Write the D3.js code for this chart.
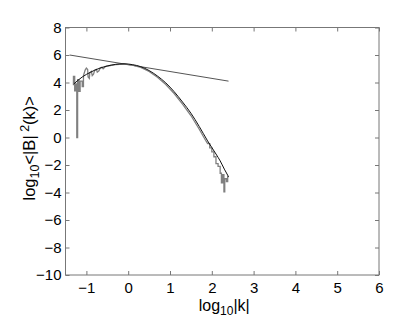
<!DOCTYPE html>
<html>
<head>
<meta charset="utf-8">
<script src="https://cdn.jsdelivr.net/npm/d3@7"></script>
<style>
body { margin: 0; background: #fff; }
text { font-family: "Liberation Sans", Arial, sans-serif; fill: #000; }
</style>
</head>
<body>
<div id="chart"></div>
<script>
// x ticks / y ticks
var xTicks = [-1, 0, 1, 2, 3, 4, 5, 6];
var yTicks = [-10, -8, -6, -4, -2, 0, 2, 4, 6, 8];

// smooth fit curve (black)
var fitX = [-1.3, -1.1, -0.9, -0.7, -0.5, -0.3, -0.1, 0.1, 0.3, 0.5, 0.7, 0.9, 1.1, 1.3, 1.5, 1.7, 1.9, 2.1, 2.2, 2.3, 2.4];
var fitY = [3.9, 4.4, 4.75, 5.02, 5.2, 5.32, 5.36, 5.3, 5.15, 4.87, 4.47, 3.97, 3.33, 2.58, 1.77, 0.8, -0.25, -1.2, -1.7, -2.3, -2.85];

// measured spectrum (grey, stair-like)
var specX = [-1.31, -1.31, -1.28, -1.28, -1.25, -1.25, -1.23, -1.23, -1.21, -1.21, -1.18, -1.18, -1.15, -1.15, -1.1, -1.1, -1.07, -1.07,
  -1.03, -1.0, -0.97, -0.96, -0.93, -0.92, -0.88, -0.86, -0.83, -0.8, -0.76, -0.74, -0.7, -0.67, -0.63, -0.6, -0.55, -0.5,
  -0.3, -0.1, 0.1, 0.3, 0.5, 0.7, 0.9, 1.1, 1.3, 1.5, 1.7, 1.85, 1.9, 1.95, 1.95, 2.0, 2.0, 2.05, 2.05, 2.1, 2.1, 2.15, 2.15,
  2.2, 2.2, 2.23, 2.23, 2.26, 2.26, 2.29, 2.29, 2.31, 2.31, 2.35, 2.35, 2.38, 2.38, 2.41];
var specY = [3.8, 4.45, 4.45, 3.4, 3.4, 3.9, 3.9, 0.0, 0.0, 4.2, 4.2, 3.35, 3.35, 4.1, 4.1, 3.7, 3.7, 4.5,
  4.9, 5.05, 4.95, 4.4, 4.3, 4.7, 4.8, 4.5, 4.6, 4.9, 4.95, 4.75, 4.85, 5.05, 5.1, 5.0, 5.15, 5.2,
  5.3, 5.34, 5.27, 5.1, 4.8, 4.38, 3.85, 3.2, 2.42, 1.6, 0.6, -0.2, -0.45, -0.45, -0.75, -0.75, -1.05, -1.05, -1.4, -1.4, -1.9, -1.9, -2.1,
  -2.1, -2.6, -2.6, -3.3, -3.3, -2.7, -2.7, -3.95, -3.95, -3.0, -3.0, -3.2, -3.2, -2.85, -2.85];

// tangent line
var tanX = [-1.4, 2.4];
var tanY = [6.0, 4.1];

var W = 407, H = 323;
var L = 65.5, R = 379, T = 27.5, B = 275;

var svg = d3.select("#chart").append("svg")
  .attr("width", W).attr("height", H);

var x = d3.scaleLinear().domain([-1.5, 6]).range([L, R]);
var y = d3.scaleLinear().domain([-10, 8]).range([B, T]);

var line = d3.line()
  .x(function(d) { return x(d[0]); })
  .y(function(d) { return y(d[1]); });

function zip(a, b) { return a.map(function(v, i) { return [v, b[i]]; }); }

svg.append("path")
  .attr("d", line(zip(tanX, tanY)))
  .attr("fill", "none").attr("stroke", "#555").attr("stroke-width", 1);

svg.append("path")
  .attr("d", line(zip(specX, specY)))
  .attr("fill", "none").attr("stroke", "#808080").attr("stroke-width", 1.3);

svg.append("path")
  .attr("d", line.curve(d3.curveMonotoneX)(zip(fitX, fitY)))
  .attr("fill", "none").attr("stroke", "#111").attr("stroke-width", 1);

// axes, MATLAB style: box with inward ticks on all sides
var axColor = "#777";
var fmt = function(d) { return d < 0 ? "\u2212" + (-d) : d; };
var gx = svg.append("g").attr("transform", "translate(0," + B + ")")
  .call(d3.axisBottom(x).tickValues(xTicks).tickSize(-4).tickPadding(7).tickFormat(fmt));
var gxt = svg.append("g").attr("transform", "translate(0," + T + ")")
  .call(d3.axisTop(x).tickValues(xTicks).tickSize(-4).tickFormat(""));
var gy = svg.append("g").attr("transform", "translate(" + L + ",0)")
  .call(d3.axisLeft(y).tickValues(yTicks).tickSize(-4).tickPadding(4).tickFormat(fmt));
var gyr = svg.append("g").attr("transform", "translate(" + R + ",0)")
  .call(d3.axisRight(y).tickValues(yTicks).tickSize(-4).tickFormat(""));

[gx, gxt, gy, gyr].forEach(function(g) {
  g.select(".domain").remove();
  g.selectAll("line").attr("stroke", axColor);
  g.selectAll("text").style("font-size", "15px").attr("fill", "#000");
});

svg.append("rect")
  .attr("x", L).attr("y", T).attr("width", R - L).attr("height", B - T)
  .attr("fill", "none").attr("stroke", axColor).attr("stroke-width", 1);

// x label
var xl = svg.append("text")
  .attr("x", (L + R) / 2 + 2).attr("y", 311)
  .attr("text-anchor", "middle").style("font-size", "16px");
xl.append("tspan").text("log");
xl.append("tspan").attr("dy", 4).style("font-size", "12px").text("10");
xl.append("tspan").attr("dy", -4).text("|k|");

// y label
var yl = svg.append("text")
  .attr("transform", "translate(35," + ((T + B) / 2 - 3) + ") rotate(-90)")
  .attr("text-anchor", "middle").style("font-size", "16.5px");
yl.append("tspan").text("log");
yl.append("tspan").attr("dy", 4).style("font-size", "12.5px").text("10");
yl.append("tspan").attr("dy", -4).text("<|B|");
yl.append("tspan").attr("dy", -6).style("font-size", "12.5px").text(" 2");
yl.append("tspan").attr("dy", 6).text("(k)>");
</script>
</body>
</html>
